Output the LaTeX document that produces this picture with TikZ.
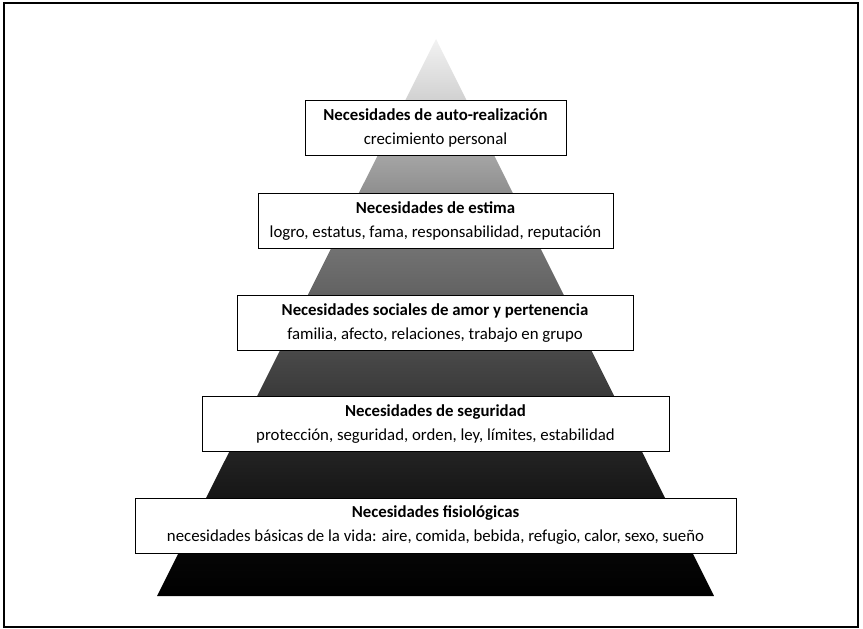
\documentclass[tikz,border=0pt]{standalone}
\usepackage{fontspec}
\setmainfont{Carlito}
\usepackage{tikz}
\usetikzlibrary{positioning, shapes}
% grey ramp of the pyramid, dark at the base, light at the tip
\pgfdeclareverticalshading{pyramidshade}{100bp}{
  color(0bp)=(black); color(25bp)=(black); color(30bp)=(black!97);
  color(34.1bp)=(black!91); color(38.2bp)=(black!86); color(43.2bp)=(black!77);
  color(47.2bp)=(black!71); color(52.4bp)=(black!61); color(56.4bp)=(black!55);
  color(61.6bp)=(black!43); color(64.7bp)=(black!35); color(69.5bp)=(black!18);
  color(75bp)=(black!5); color(100bp)=(black!5)}
\tikzset{
	levelbox/.style={draw, thick, fill=white, minimum height=55pt, inner sep=0pt,
	  align=center, font=\fontsize{16.8}{24}\selectfont}
}
\newcommand{\lvltitle}[1]{\textbf{#1}}

\begin{document}
\begin{tikzpicture}[x=1pt, y=-1pt]
      \useasboundingbox (0,0) rectangle (863,629);
      % frame
      \draw[line width=1.2pt] (4,3) rectangle (858,627);
      % pyramid
      \shade[shading=pyramidshade] (157,596) -- (436,39) -- (714,596) -- cycle;
      % levels, top to bottom
      \node[levelbox, minimum width=261pt] (self) at (435.5,127.5)
        {\lvltitle{Necesidades de auto-realización}\\ crecimiento personal};
      \node[levelbox, minimum width=355pt] (esteem) at (435.5,221)
        {\lvltitle{Necesidades de estima}\\ logro, estatus, fama, responsabilidad, reputación};
      \node[levelbox, minimum width=396pt] (love) at (435,323)
        {\lvltitle{Necesidades sociales de amor y pertenencia}\\ familia, afecto, relaciones, trabajo en grupo};
      \node[levelbox, minimum width=467pt] (safety) at (435.5,424)
        {\lvltitle{Necesidades de seguridad}\\ protección, seguridad, orden, ley, límites, estabilidad};
      \node[levelbox, minimum width=601pt] (body) at (435.5,525.5)
        {\lvltitle{Necesidades fisiológicas}\\ necesidades básicas de la vida: aire, comida, bebida, refugio, calor, sexo, sueño};
\end{tikzpicture}
\end{document}
